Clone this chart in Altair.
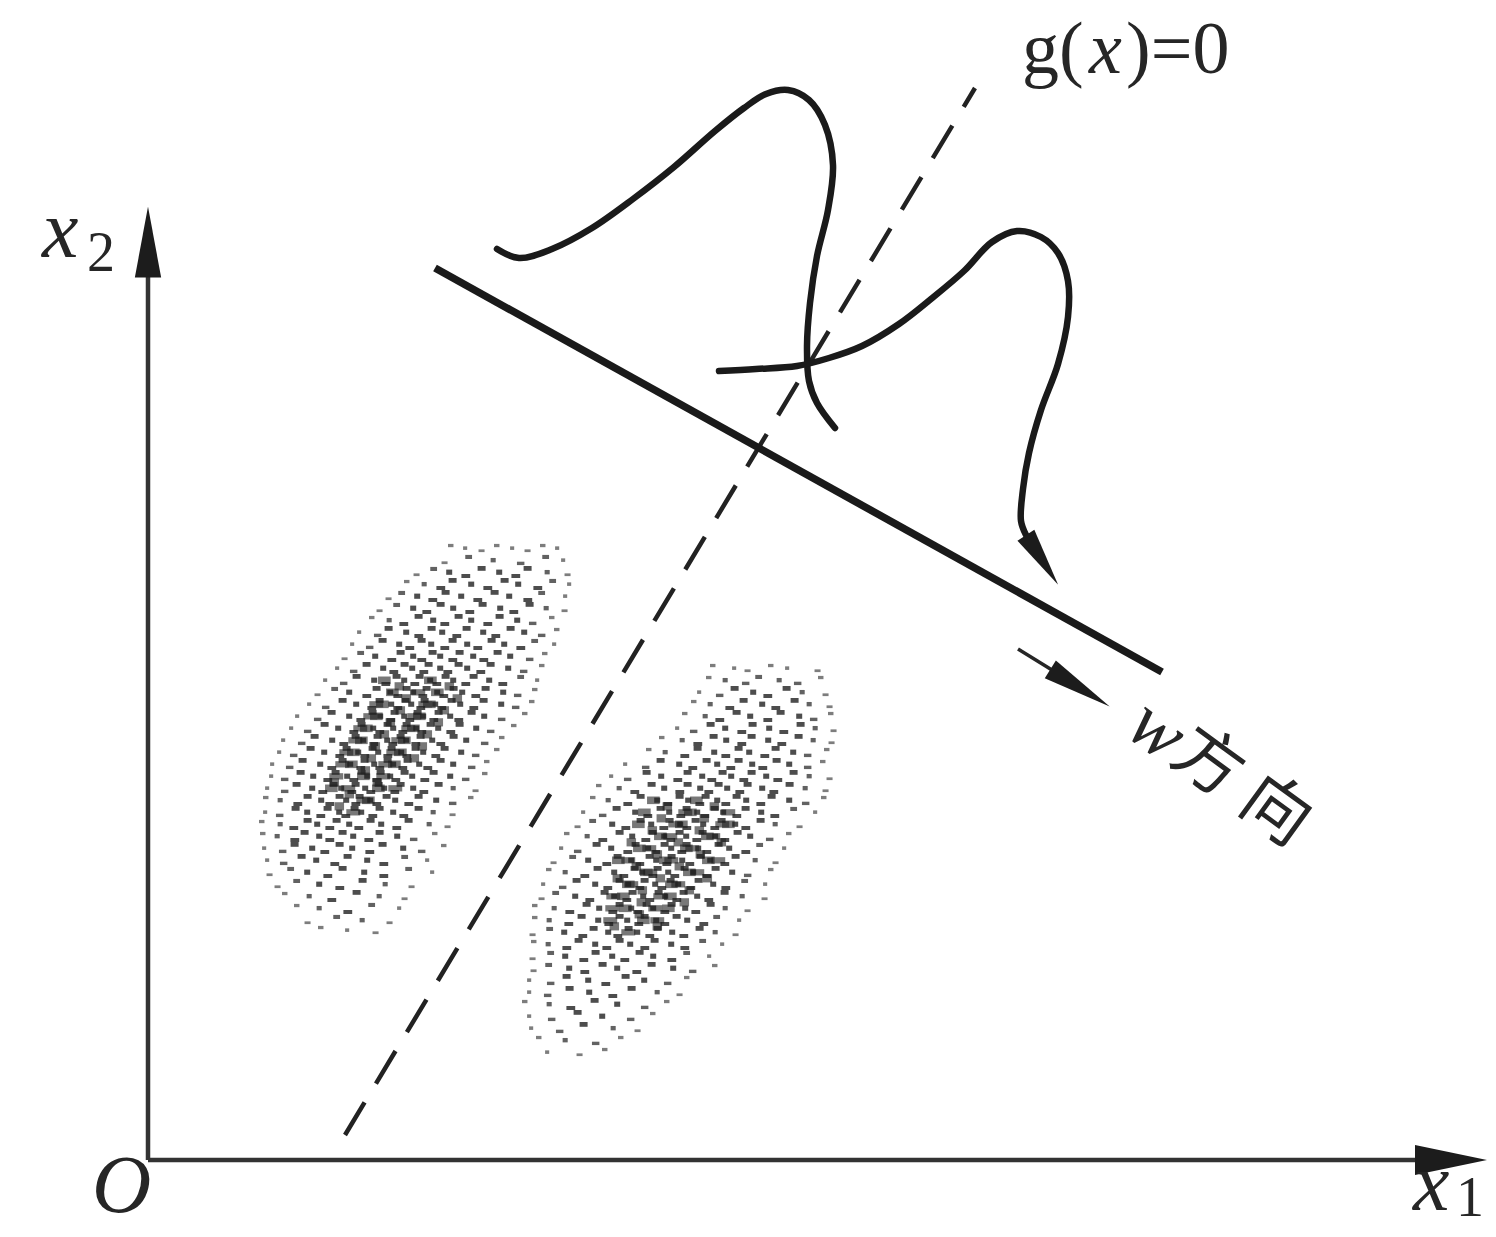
import altair as alt
import pandas as pd

# Frame: u = pixels right of the origin O, v = pixels above O
U_DOMAIN = [-140, 1340]
V_DOMAIN = [-69, 1152]

# ---- axes -------------------------------------------------------------
axis_x1_u = [0, 1275]
axis_x1_v = [0, 0]
axis_x2_u = [0, 0]
axis_x2_v = [0, 885]

# ---- projection line (w direction) and decision boundary g(x)=0 -----
proj_u = [287, 1014]
proj_v = [892, 488]
bound_u = [197, 827]
bound_v = [25, 1072]

# ---- projected class densities --------------------------------------
curve1_u = [349, 371, 404, 444, 485, 526, 567, 596, 618, 640, 661, 677, 685, 680, 669, 662, 659, 661, 669, 687]
curve1_v = [911, 902, 911, 932, 961, 993, 1029, 1052, 1066, 1070, 1060, 1035, 995, 950, 904, 857, 814, 779, 757, 732]
curve2_u = [571, 608, 649, 681, 714, 751, 783, 816, 844, 869, 893, 910, 920, 920, 910, 893, 881, 875, 873, 878]
curve2_v = [789, 791, 794, 802, 814, 836, 861, 889, 918, 929, 923, 907, 879, 843, 796, 750, 707, 671, 639, 625]

# ---- w arrow shaft ----------------------------------------------------
w_shaft_u = [870, 904]
w_shaft_v = [511, 490]

# ---- arrowheads (centre of each head) --------------------------------
arrow_names = ["x1", "x2", "curve2", "w"]
arrow_u = [1303, 0, 894, 932]
arrow_v = [0, 918, 600, 472]

# ---- sample clouds: rows of (v, [u ...]) -------------------------------
cloud1_rows = [
    (612, [303, 317, 333, 349, 364, 379, 395, 409]),
    (600, [296, 321, 345, 372, 398, 415]),
    (588, [268, 286, 301, 317, 334, 351, 367, 380, 399, 419]),
    (576, [259, 276, 292, 305, 323, 339, 357, 370, 389, 405, 421]),
    (564, [240, 254, 269, 284, 298, 313, 329, 347, 361, 379, 394, 417]),
    (552, [231, 249, 265, 278, 293, 305, 321, 335, 352, 365, 382, 398, 416]),
    (540, [224, 241, 255, 271, 285, 296, 311, 323, 339, 352, 369, 384, 404]),
    (528, [211, 229, 241, 258, 270, 284, 294, 308, 319, 335, 347, 363, 376, 393, 409]),
    (516, [204, 221, 235, 251, 261, 274, 283, 296, 305, 319, 329, 344, 356, 372, 387, 406]),
    (504, [196, 213, 227, 243, 253, 265, 273, 285, 292, 304, 312, 325, 335, 350, 362, 381, 397]),
    (492, [189, 205, 219, 235, 245, 257, 264, 275, 281, 292, 299, 311, 319, 332, 343, 360, 375, 394]),
    (480, [177, 195, 209, 226, 237, 249, 256, 266, 272, 282, 288, 298, 305, 317, 326, 341, 354, 373, 389]),
    (468, [169, 187, 201, 218, 229, 242, 249, 259, 265, 274, 279, 289, 295, 306, 314, 327, 338, 355, 369, 387]),
    (456, [161, 177, 195, 208, 223, 232, 243, 249, 258, 263, 272, 277, 287, 293, 304, 312, 325, 336, 353, 367, 384]),
    (444, [149, 169, 184, 201, 212, 225, 232, 242, 247, 256, 261, 270, 275, 285, 291, 302, 310, 324, 336, 353, 377]),
    (432, [143, 159, 177, 190, 205, 214, 225, 231, 240, 245, 254, 259, 268, 273, 283, 290, 302, 312, 328, 342, 366]),
    (420, [135, 153, 167, 184, 195, 208, 215, 225, 230, 239, 244, 253, 258, 267, 273, 284, 292, 306, 318, 336, 354]),
    (408, [131, 145, 163, 176, 191, 199, 210, 216, 225, 230, 239, 244, 253, 258, 268, 275, 287, 297, 313, 327, 349]),
    (396, [124, 141, 155, 172, 183, 195, 202, 212, 217, 226, 231, 240, 245, 254, 260, 271, 279, 293, 305, 323, 339]),
    (384, [123, 136, 153, 165, 179, 188, 199, 205, 214, 219, 228, 233, 242, 247, 257, 264, 276, 286, 302, 317, 337]),
    (372, [119, 136, 149, 164, 174, 186, 193, 203, 208, 217, 222, 231, 236, 246, 253, 265, 275, 291, 305, 327]),
    (360, [118, 132, 149, 160, 173, 181, 192, 198, 207, 212, 222, 228, 239, 247, 260, 271, 288, 304, 323]),
    (348, [117, 131, 148, 159, 172, 180, 191, 197, 207, 213, 224, 232, 245, 255, 271, 285, 304]),
    (336, [114, 132, 145, 160, 169, 181, 189, 201, 210, 223, 233, 248, 261, 281, 299]),
    (324, [115, 129, 146, 157, 171, 181, 195, 205, 220, 232, 249, 265, 287]),
    (312, [116, 134, 147, 164, 176, 192, 204, 221, 235, 255, 273, 296]),
    (300, [119, 135, 154, 168, 186, 200, 219, 235, 257, 279]),
    (288, [121, 143, 159, 179, 195, 216, 235, 261, 284]),
    (276, [129, 149, 171, 191, 215, 237, 263]),
    (264, [137, 161, 183, 209, 231, 256]),
    (252, [149, 171, 199, 224, 251]),
    (240, [159, 189, 214, 241]),
    (230, [173, 199, 227]),
]
cloud1_core_rows = [
    (474, [237, 251, 269, 283, 301]),
    (462, [227, 245, 258, 276, 290, 309]),
    (450, [221, 235, 252, 265, 282, 296]),
    (438, [211, 229, 242, 259, 272, 290]),
    (426, [206, 219, 236, 249, 266, 279]),
    (414, [197, 214, 227, 244, 257, 274]),
    (402, [193, 206, 223, 236, 253, 266]),
    (390, [187, 204, 217, 234, 247]),
    (378, [186, 199, 216, 229, 246]),
    (366, [184, 201, 214, 231]),
    (354, [191, 204, 221]),
]
cloud2_rows = [
    (492, [565, 586, 599, 623, 639, 669]),
    (480, [561, 577, 597, 611, 631, 649, 673]),
    (468, [551, 571, 587, 605, 619, 639, 654, 677]),
    (456, [546, 562, 581, 596, 614, 627, 647, 661, 681]),
    (444, [537, 557, 571, 589, 602, 619, 633, 651, 665, 683]),
    (432, [529, 545, 563, 577, 593, 605, 621, 635, 653, 667, 685]),
    (420, [514, 534, 549, 566, 578, 593, 604, 620, 633, 651, 665, 683]),
    (408, [501, 517, 536, 550, 566, 577, 591, 601, 616, 628, 645, 659, 679]),
    (396, [477, 497, 513, 531, 544, 559, 569, 582, 591, 604, 614, 629, 641, 659, 675]),
    (384, [463, 479, 499, 513, 529, 540, 554, 563, 575, 583, 595, 604, 618, 629, 646, 661, 681]),
    (372, [451, 471, 486, 504, 516, 531, 540, 552, 560, 571, 579, 591, 600, 614, 625, 642, 657, 677]),
    (360, [445, 460, 479, 493, 509, 519, 532, 540, 551, 558, 569, 577, 589, 598, 612, 624, 641, 657, 676]),
    (348, [435, 454, 469, 487, 499, 513, 521, 532, 539, 549, 556, 567, 575, 588, 598, 613, 626, 646, 667]),
    (336, [429, 445, 464, 477, 493, 503, 515, 522, 532, 538, 548, 555, 566, 574, 587, 597, 613, 627, 651]),
    (324, [419, 439, 454, 472, 484, 497, 505, 516, 522, 532, 538, 548, 555, 567, 576, 590, 602, 621, 641]),
    (312, [413, 429, 449, 463, 479, 488, 500, 507, 517, 523, 533, 539, 550, 558, 571, 581, 597, 612, 636]),
    (300, [405, 425, 440, 458, 470, 483, 491, 502, 508, 518, 524, 534, 541, 553, 562, 576, 588, 607, 627]),
    (288, [401, 417, 436, 450, 466, 475, 487, 494, 504, 510, 520, 526, 537, 545, 558, 568, 584, 599, 623]),
    (276, [395, 414, 429, 447, 459, 472, 480, 491, 497, 507, 513, 523, 530, 542, 551, 565, 577, 597, 617]),
    (264, [393, 408, 427, 441, 457, 466, 478, 485, 495, 501, 511, 517, 528, 536, 549, 560, 577, 594, 616]),
    (252, [387, 406, 421, 439, 451, 464, 472, 483, 489, 499, 505, 516, 524, 537, 547, 563, 577, 599]),
    (240, [387, 401, 420, 434, 450, 460, 472, 479, 490, 497, 508, 516, 529, 539, 555, 569, 591]),
    (228, [384, 402, 416, 434, 446, 460, 469, 481, 489, 501, 510, 524, 535, 552, 567, 587]),
    (216, [386, 400, 418, 431, 447, 458, 472, 482, 496, 507, 523, 536, 555, 574]),
    (204, [384, 403, 417, 435, 448, 464, 476, 492, 505, 523, 539, 561]),
    (192, [385, 401, 421, 436, 455, 469, 488, 504, 525, 544, 567]),
    (180, [381, 402, 419, 440, 457, 478, 496, 519, 539]),
    (168, [381, 399, 422, 441, 464, 484, 509, 531]),
    (156, [377, 401, 422, 447, 469, 496, 519]),
    (144, [381, 403, 430, 454, 482, 505]),
    (132, [383, 411, 436, 465, 489]),
    (120, [391, 417, 447, 473]),
    (108, [399, 431, 457]),
]
cloud2_core_rows = [
    (354, [506, 519, 536, 549, 566, 579]),
    (342, [497, 513, 526, 543, 556, 573]),
    (330, [491, 504, 521, 534, 551, 564, 581]),
    (318, [483, 500, 513, 530, 543, 560, 573]),
    (306, [479, 492, 509, 522, 539, 552, 569]),
    (294, [471, 488, 501, 518, 531, 548, 561]),
    (282, [469, 482, 499, 512, 529, 542, 559]),
    (270, [464, 481, 494, 511, 524, 541]),
    (258, [463, 476, 493, 506, 523, 536]),
    (246, [461, 478, 491, 508, 521]),
    (234, [466, 479, 496, 509]),
]

# ---- labels (text, u, v) -----------------------------------------------
var_labels = [("x", -106, 903), ("O", -56, -52), ("x", 1265, -50)]
sub_labels = [("2", -61, 889), ("1", 1308, -56)]
eq_plain = [("g(", 874, 1087), (")=0", 978, 1087)]
eq_var = [("x", 941, 1087)]
w_var = [("w", 1009, 430)]
w_cjk = [("方", 1059, 396), ("向", 1127, 348)]

INK = "#262626"
SERIF = "Liberation Serif"


def enc():
    return dict(
        x=alt.X("u:Q", scale=alt.Scale(domain=U_DOMAIN, nice=False, zero=False), axis=None),
        y=alt.Y("v:Q", scale=alt.Scale(domain=V_DOMAIN, nice=False, zero=False), axis=None),
    )


def path_df(us, vs):
    return pd.DataFrame({"u": us, "v": vs, "i": list(range(len(us)))})


def rows_df(rows):
    """Flatten rows; 'e' = how far (in steps) a speck sits from the cloud's edge."""
    recs = []
    nr = len(rows)
    for r, (v, us) in enumerate(rows):
        n = len(us)
        for j, u in enumerate(us):
            e = min(j, n - 1 - j, r, nr - 1 - r)
            recs.append((u, v, e))
    df = pd.DataFrame(recs, columns=["u", "v", "e"])
    df["k"] = range(len(df))
    return df


def text_df(items):
    return pd.DataFrame(items, columns=["t", "u", "v"])


layers = []

# clouds: halftone-like specks, three speck variants to break up the row pattern
SPECKS = [
    "M -1.1 -1.5 L 0.9 -1.5 L 0.9 -0.3 L -1.1 -0.3 Z",
    "M -0.7 -0.6 L 0.8 -0.6 L 0.8 0.7 L -0.7 0.7 Z",
    "M -0.9 0.5 L 1.3 0.5 L 1.3 1.5 L -0.9 1.5 Z",
]
# edge-distance bands: (filter, size, opacity)
BANDS = [
    ("datum.e == 0", 30, 0.6),
    ("datum.e == 1", 46, 0.72),
    ("datum.e >= 2", 64, 0.82),
]
for rows in (cloud1_rows, cloud2_rows):
    df = rows_df(rows)
    for cond, sz, op in BANDS:
        for j, shp in enumerate(SPECKS):
            layers.append(
                alt.Chart(df).transform_filter(cond).transform_filter(alt.datum.k % 3 == j)
                .mark_point(shape=shp, size=sz, filled=True, color="#262626", opacity=op, strokeWidth=0)
                .encode(**enc())
            )
for rows in (cloud1_core_rows, cloud2_core_rows):
    df = rows_df(rows)
    for j, shp in enumerate(SPECKS):
        layers.append(
            alt.Chart(df).transform_filter(alt.datum.k % 3 == j)
            .mark_point(shape=shp, size=160, filled=True, color="#1e1e1e", opacity=0.6, strokeWidth=0)
            .encode(**enc())
        )

# axes
for us, vs in ((axis_x1_u, axis_x1_v), (axis_x2_u, axis_x2_v)):
    layers.append(
        alt.Chart(path_df(us, vs)).mark_line(color="#333333", strokeWidth=4.5).encode(order="i:Q", **enc())
    )

# dashed boundary
layers.append(
    alt.Chart(path_df(bound_u, bound_v)).mark_line(color="#222222", strokeWidth=4.5, strokeDash=[38, 22]).encode(order="i:Q", **enc())
)
# projection line
layers.append(
    alt.Chart(path_df(proj_u, proj_v)).mark_line(color="#1a1a1a", strokeWidth=7.5).encode(order="i:Q", **enc())
)
# density curves
for us, vs in ((curve1_u, curve1_v), (curve2_u, curve2_v)):
    layers.append(
        alt.Chart(path_df(us, vs)).mark_line(color="#1a1a1a", strokeWidth=6.5, interpolate="catmull-rom",
                                             strokeCap="round").encode(order="i:Q", **enc())
    )
# w shaft
layers.append(
    alt.Chart(path_df(w_shaft_u, w_shaft_v)).mark_line(color="#262626", strokeWidth=3.5).encode(order="i:Q", **enc())
)

# arrowheads
arrow_df = pd.DataFrame({"name": arrow_names, "u": arrow_u, "v": arrow_v})
arrow_style = {
    "x1": dict(shape="M 0 -1 L 0.42 1 L -0.42 1 Z", size=5184, angle=90),
    "x2": dict(shape="M 0 -1 L 0.37 1 L -0.37 1 Z", size=5041, angle=0),
    "curve2": dict(shape="M 0 -1 L 0.34 1 L -0.34 1 Z", size=3500, angle=147),
    "w": dict(shape="M 0 -1 L 0.3 1 L -0.3 1 Z", size=4900, angle=122),
}
for name in arrow_names:
    st = arrow_style[name]
    layers.append(
        alt.Chart(arrow_df).transform_filter(alt.datum.name == name)
        .mark_point(filled=True, color="#1c1c1c", opacity=1, strokeWidth=0, **st)
        .encode(**enc())
    )


# labels
def text_layer(items, **kw):
    return alt.Chart(text_df(items)).mark_text(color=INK, **kw).encode(text="t:N", **enc())


layers.append(text_layer(var_labels, font=SERIF, fontStyle="italic", fontSize=82, align="left", baseline="alphabetic"))
layers.append(text_layer(sub_labels, font=SERIF, fontSize=56, align="left", baseline="alphabetic"))
layers.append(text_layer(eq_plain, font=SERIF, fontSize=74, align="left", baseline="alphabetic"))
layers.append(text_layer(eq_var, font=SERIF, fontStyle="italic", fontSize=74, align="left", baseline="alphabetic"))
layers.append(text_layer(w_var, font=SERIF, fontStyle="italic", fontSize=76, align="center", baseline="middle", angle=36))
layers.append(text_layer(w_cjk, font="Noto Sans CJK SC", fontSize=68, align="center", baseline="middle", angle=36))

chart = (
    alt.layer(*layers)
    .properties(width=1480, height=1221, padding=0, autosize="none", background="white")
    .configure_view(stroke=None)
)

chart.save("out.html", embed_options={"renderer": "svg", "actions": False})
